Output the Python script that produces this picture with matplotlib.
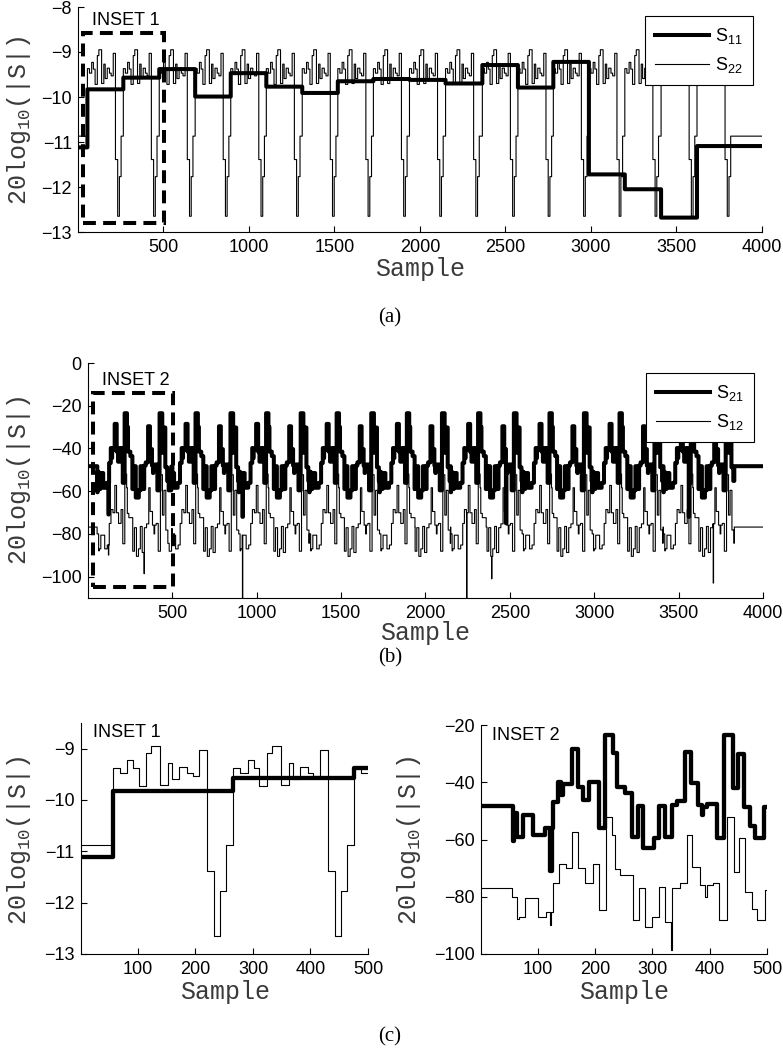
import numpy as np
import matplotlib
matplotlib.use("Agg")
import matplotlib.pyplot as plt
from matplotlib.patches import Rectangle

plt.rcParams['font.family'] = ['Liberation Sans', 'DejaVu Sans']
plt.rcParams['axes.unicode_minus'] = True

# ------------------------------------------------------------------ data
N_SAMPLES = 4000

# start sample of each measurement sweep (read from the S22 dips / S11 steps)
cycle_starts = [56, 266, 476, 686, 894, 1102, 1312, 1520, 1728, 1939,
                2150, 2365, 2573, 2780, 2988, 3198, 3410, 3620]

# S11: one level per sweep
s11_starts = [1] + cycle_starts
s11_levels = [-11.12, -9.83, -9.57, -9.38, -9.99, -9.47, -9.77, -9.91, -9.65,
              -9.60, -9.62, -9.70, -9.29, -9.79, -9.22, -11.72, -12.05, -12.68,
              -11.09]

# S22: level between sweeps, and the steps read inside one sweep (inset 1)
s22_idle = -10.87
s22_sweep_offsets = [0, 12, 25, 35, 45, 58, 67, 83, 96, 104, 116, 129, 139,
                     151, 164, 177, 187, 197]
s22_sweep_levels = [-9.37, -9.47, -9.23, -9.38, -9.72, -9.08, -8.95, -9.70,
                    -9.27, -9.59, -9.36, -9.47, -9.53, -9.03, -11.39, -12.65,
                    -11.77, -10.87]

# S21 / S12 steps over the first 500 samples (inset 2)
s21_inset_starts = [1, 56, 58, 64, 74, 91, 112, 126, 136, 141, 144, 159, 171,
                    179, 190, 207, 218, 232, 238, 252, 264, 275, 284, 302, 312,
                    322, 334, 343, 357, 368, 380, 386, 388, 396, 412, 425, 441,
                    450, 459, 470, 479, 494]
s21_inset_levels = [-48.3, -60.5, -50.9, -59.0, -51.5, -58.4, -56.1, -46.8,
                    -39.8, -44.5, -40.5, -28.5, -41.5, -46.2, -39.8, -56.1,
                    -23.5, -29.9, -41.5, -43.6, -59.0, -48.3, -63.0, -59.6,
                    -48.3, -59.0, -48.0, -46.5, -29.6, -40.3, -48.0, -51.5,
                    -48.8, -47.5, -59.6, -23.5, -42.0, -30.2, -48.8, -55.2,
                    -59.6, -48.5]
s12_inset_starts = [1, 55, 64, 68, 77, 100, 115, 127, 137, 149, 160, 170, 182,
                    197, 207, 219, 230, 234, 243, 266, 276, 288, 300, 311, 322,
                    335, 348, 361, 369, 383, 392, 396, 405, 417, 430, 442, 451,
                    462, 474, 482, 496]
s12_inset_levels = [-76.8, -80.0, -87.9, -87.0, -80.6, -87.0, -85.2, -75.1,
                    -68.6, -70.1, -57.3, -70.1, -75.1, -68.6, -84.6, -52.0,
                    -58.4, -70.4, -72.4, -88.1, -77.1, -90.5, -87.0, -76.5,
                    -88.7, -77.1, -75.3, -58.4, -69.5, -75.9, -80.0, -75.9,
                    -75.1, -88.1, -52.3, -71.2, -59.6, -78.2, -84.4, -88.1,
                    -77.5]
s21_idle = -48.3
s12_idle = -76.8

# isolated short spikes
s21_spike_samples = [122, 916, 2477, 3560]
s21_spike_levels = [-70.9, -72.0, -75.0, -72.0]
s12_spike_samples = [122, 333, 916, 2244, 2392, 3705]
s12_spike_levels = [-89.9, -98.6, -113.0, -113.0, -101.0, -103.0]

# ------------------------------------------------------------------ build series
samples = np.arange(1, N_SAMPLES + 1)


def steps(starts, levels, x):
    idx = np.searchsorted(np.asarray(starts), x, side='right') - 1
    idx = np.clip(idx, 0, len(levels) - 1)
    return np.asarray(levels, dtype=float)[idx]


s11 = steps(s11_starts, s11_levels, samples)

s22 = np.full(N_SAMPLES, s22_idle)
bounds = cycle_starts + [N_SAMPLES + 1]
for k, c in enumerate(cycle_starts):
    seg = np.arange(c, bounds[k + 1])
    s22[seg - 1] = steps(s22_sweep_offsets, s22_sweep_levels, seg - c)

SWEEP = 210
s21_first = steps(s21_inset_starts, s21_inset_levels, samples[:500])
s12_first = steps(s12_inset_starts, s12_inset_levels, samples[:500])
sweeps21 = [s21_first[55:55 + SWEEP], s21_first[265:265 + SWEEP]]
sweeps12 = [s12_first[55:55 + SWEEP], s12_first[265:265 + SWEEP]]

s21 = np.full(N_SAMPLES, s21_idle)
s12 = np.full(N_SAMPLES, s12_idle)
s21[:500] = s21_first
s12[:500] = s12_first
for k, c in enumerate(cycle_starts):
    if k < 2:
        continue
    for s in range(c, bounds[k + 1]):
        if s <= 500:
            continue
        off = s - c
        if off < SWEEP:
            s21[s - 1] = sweeps21[k % 2][off]
            s12[s - 1] = sweeps12[k % 2][off]
for sx, sv in zip(s21_spike_samples, s21_spike_levels):
    s21[sx - 1:sx + 2] = sv
for sx, sv in zip(s12_spike_samples, s12_spike_levels):
    s12[sx - 1:sx + 1] = sv

# ------------------------------------------------------------------ figure
W, H, DPI = 783, 1050, 100
fig = plt.figure(figsize=(W / DPI, H / DPI), dpi=DPI)
fig.patch.set_facecolor('white')


def rect(l, r, t, b):
    return [l / W, 1 - b / H, (r - l) / W, (b - t) / H]


TICK_FS = 13
LAB_FS = 18
THICK, THIN = 2.9, 0.8
mono = 'Liberation Mono'
LAB_COLOR = '#3a3a3a'


def style(ax):
    for sp in ['top', 'right']:
        ax.spines[sp].set_visible(False)
    for sp in ['left', 'bottom']:
        ax.spines[sp].set_linewidth(0.8)
    ax.tick_params(direction='in', length=4, width=0.8, labelsize=TICK_FS,
                   pad=5, colors='black')
    ax.tick_params(axis='y', pad=4.5)


def ylab(x, y):
    fig.text(x / W, 1 - y / H, '20log$_\\mathregular{10}$(|S|)', rotation=90,
             ha='center', va='center', family=mono, fontsize=LAB_FS,
             color=LAB_COLOR)


def xlab(x, y):
    fig.text(x / W, 1 - y / H, 'Sample', ha='center', va='baseline',
             family=mono, fontsize=LAB_FS, color=LAB_COLOR)


def panel_tag(txt, x, y):
    fig.text(x / W, 1 - y / H, txt, ha='center', va='center',
             family='Liberation Serif', fontsize=15)


def legend(ax, x_right, y_top):
    h, l = ax.get_legend_handles_labels()
    lg = ax.legend([h[1], h[0]], [l[1], l[0]], loc='upper right',
                   bbox_to_anchor=(x_right / W, 1 - y_top / H),
                   bbox_transform=fig.transFigure, borderaxespad=0,
                   fontsize=13, frameon=True, fancybox=False,
                   edgecolor='black', framealpha=1, handlelength=3.0,
                   handletextpad=0.35, borderpad=0.55, labelspacing=0.5)
    lg.get_frame().set_linewidth(0.8)


# ---- (a)
axA = fig.add_axes(rect(78, 762, 7, 232))
axA.plot(samples, s22, color='black', lw=THIN, drawstyle='steps-post',
         label='S$_\\mathregular{22}$', zorder=2)
axA.plot(samples, s11, color='black', lw=THICK, drawstyle='steps-post',
         label='S$_\\mathregular{11}$', zorder=3)
axA.set_xlim(1, 4000)
axA.set_ylim(-13, -8)
axA.set_xticks([500, 1000, 1500, 2000, 2500, 3000, 3500, 4000])
axA.set_yticks([-13, -12, -11, -10, -9, -8])
style(axA)
axA.add_patch(Rectangle((30, -12.79), 472, 4.22, fill=False, ec='black',
                        lw=2.9, ls=(0, (3.2, 1.8)), zorder=5, clip_on=False))
axA.text(83, -8.29, 'INSET 1', fontsize=13, va='center', ha='left')
legend(axA, 753, 16)
ylab(19, 120)
xlab(420, 276)
panel_tag('(a)', 390, 318)

# ---- (b)
axB = fig.add_axes(rect(88, 763, 363, 598))
axB.plot(samples, s12, color='black', lw=THIN, drawstyle='steps-post',
         label='S$_\\mathregular{12}$', zorder=2)
axB.plot(samples, s21, color='black', lw=THICK, drawstyle='steps-post',
         label='S$_\\mathregular{21}$', zorder=3)
axB.set_xlim(1, 4000)
axB.set_ylim(-110, 0)
axB.set_xticks([500, 1000, 1500, 2000, 2500, 3000, 3500, 4000])
axB.set_yticks([-100, -80, -60, -40, -20, 0])
style(axB)
axB.add_patch(Rectangle((28, -105), 474, 90.8, fill=False, ec='black',
                        lw=2.9, ls=(0, (3.2, 1.8)), zorder=5, clip_on=False))
axB.text(83, -8, 'INSET 2', fontsize=13, va='center', ha='left')
legend(axB, 754, 373)
ylab(19, 480)
xlab(425, 640)
panel_tag('(b)', 390, 658)

# ---- (c) inset 1
axC1 = fig.add_axes(rect(81, 368, 723, 954))
axC1.plot(samples[:500], s22[:500], color='black', lw=THIN,
          drawstyle='steps-post', zorder=2)
axC1.plot(samples[:500], s11[:500], color='black', lw=3.1,
          drawstyle='steps-post', zorder=3)
axC1.set_xlim(1, 500)
axC1.set_ylim(-13, -8.5)
axC1.set_xticks([100, 200, 300, 400, 500])
axC1.set_yticks([-13, -12, -11, -10, -9])
style(axC1)
axC1.text(22, -8.69, 'INSET 1', fontsize=13, va='center', ha='left')
ylab(19, 840)
xlab(225, 999)

# ---- (c) inset 2
axC2 = fig.add_axes(rect(481, 767, 725, 954))
axC2.plot(samples[:500], s12[:500], color='black', lw=THIN,
          drawstyle='steps-post', zorder=2)
axC2.plot(samples[:500], s21[:500], color='black', lw=3.1,
          drawstyle='steps-post', zorder=3)
axC2.set_xlim(1, 500)
axC2.set_ylim(-100, -20)
axC2.set_xticks([100, 200, 300, 400, 500])
axC2.set_yticks([-100, -80, -60, -40, -20])
style(axC2)
axC2.text(21, -23.5, 'INSET 2', fontsize=13, va='center', ha='left')
ylab(409, 840)
xlab(624, 999)
panel_tag('(c)', 390, 1037)

fig.savefig('out.png', dpi=DPI, facecolor='white')
